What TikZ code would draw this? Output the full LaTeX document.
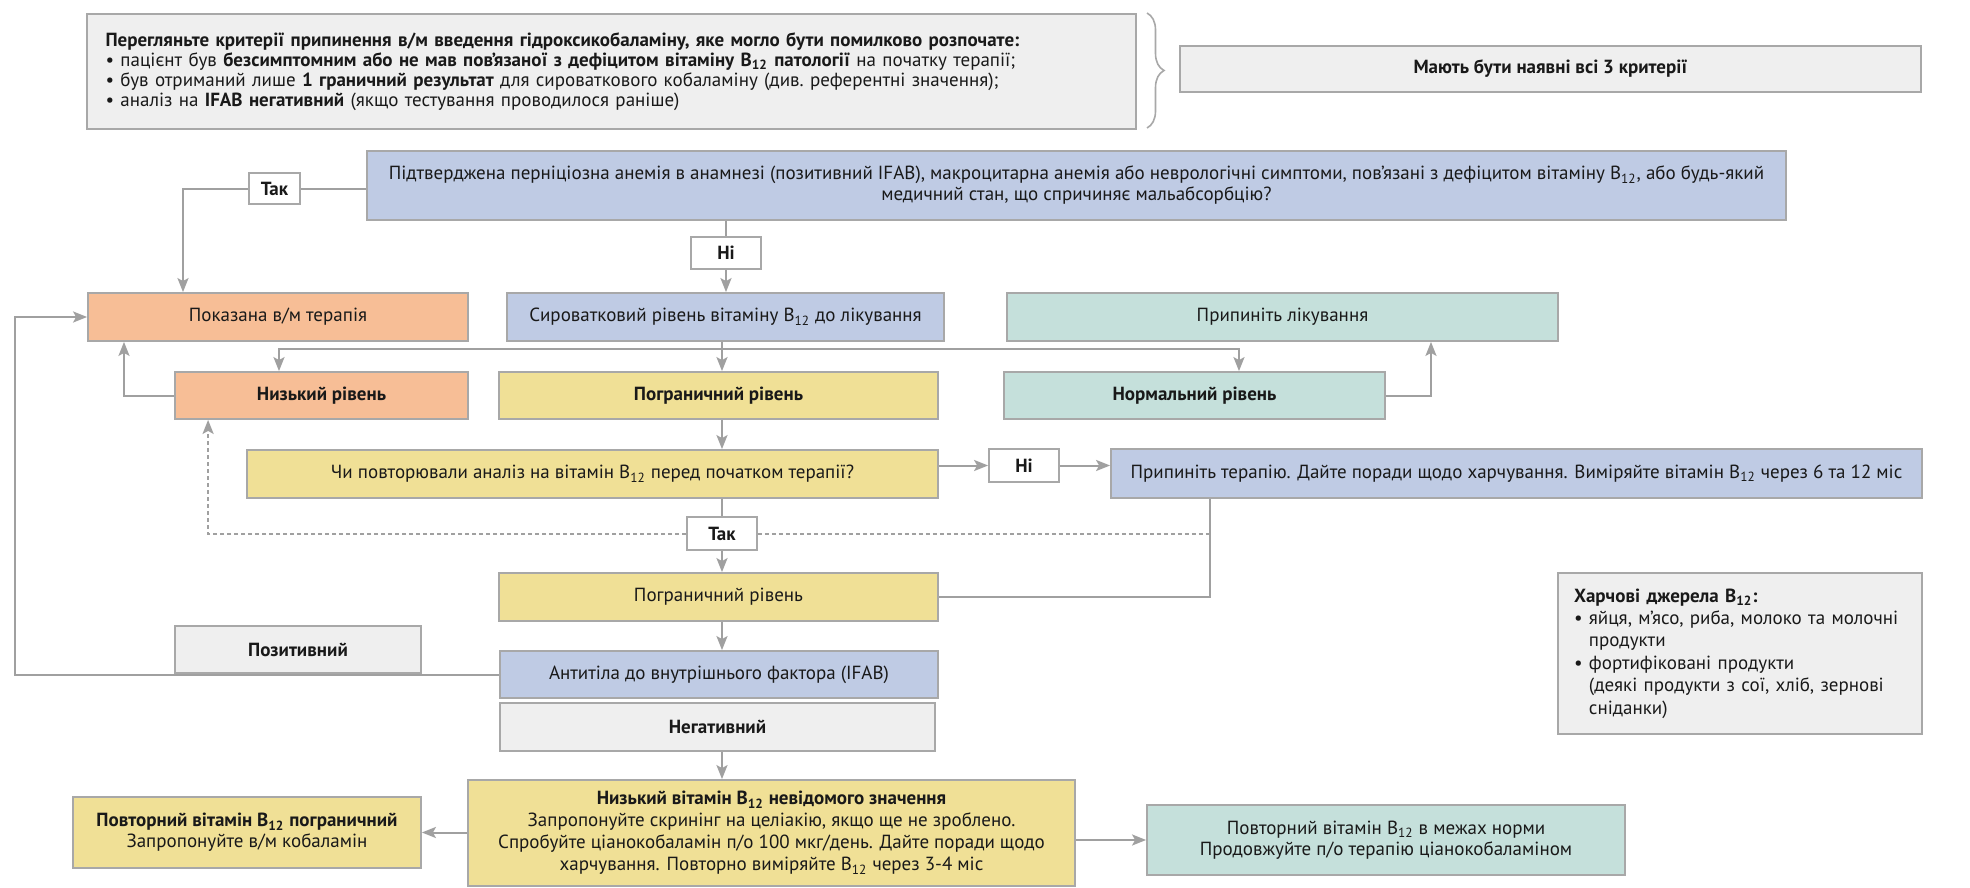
\documentclass[tikz,border=0pt]{standalone}
\usepackage{fontspec}
\setmainfont{PT Sans}
\usepackage{tikz}
\usetikzlibrary{arrows.meta,decorations.pathreplacing}

\definecolor{boxgray}{HTML}{EFEFEF}
\definecolor{boxblue}{HTML}{BFCBE4}
\definecolor{boxorange}{HTML}{F7BE96}
\definecolor{boxyellow}{HTML}{F0E096}
\definecolor{boxteal}{HTML}{C5E0DB}
\definecolor{linegray}{HTML}{A0A0A0}
\definecolor{edgegray}{HTML}{A8A8A8}

\newcommand{\fs}{\fontsize{9.5}{10.5}\selectfont}
\newcommand{\vitB}{B\textsubscript{12}}

\begin{document}
\begin{tikzpicture}[x=0.5pt, y=-0.5pt,
    every node/.style={font=\fs, text=black!90},
    box/.style={rectangle, draw=edgegray, line width=0.9pt, align=center, inner sep=2pt},
    greybox/.style={box, fill=boxgray},
    bluebox/.style={box, fill=boxblue},
    orangebox/.style={box, fill=boxorange},
    yellowbox/.style={box, fill=boxyellow},
    tealbox/.style={box, fill=boxteal},
    tag/.style={box, fill=white, font=\fs\bfseries},
    link/.style={draw=linegray, line width=1pt},
    arr/.style={link, -{Stealth[length=7pt, width=5.5pt, inset=1.5pt]}},
    darr/.style={arr, dash pattern=on 2pt off 1.5pt},
    dlink/.style={link, dash pattern=on 2pt off 1.5pt},
    critbrace/.style={draw=edgegray, line width=0.8pt, decorate, decoration={brace, amplitude=8.5pt}}
  ]
                    \path[fill=white, use as bounding box] (0,0) rectangle (1970,888);
                    % Nodes
                    \node[greybox, minimum width=524.5pt, minimum height=57.5pt, text width=506pt, align=left, font=\fontsize{9.5}{10}\selectfont] (crit) at (611.5,71.5) {\textbf{Перегляньте критерії припинення в/м введення гідроксикобаламіну, яке могло бути помилково розпочате:}\\
                        • пацієнт був \textbf{безсимптомним або не мав пов’язаної з дефіцитом вітаміну \vitB\ патології} на початку терапії;\\
                        • був отриманий лише \textbf{1 граничний результат} для сироваткового кобаламіну (див.\ референтні значення);\\
                        • аналіз на \textbf{IFAB негативний} (якщо тестування проводилося раніше)};
                    \node[greybox, minimum width=370.5pt, minimum height=23pt, font=\fs\bfseries] (crit3) at (1550.5,69) {Мають бути наявні всі 3 критерії};
                    \node[bluebox, minimum width=709.5pt, minimum height=34.5pt] (quest) at (1076.5,185.5) {Підтверджена перніціозна анемія в анамнезі (позитивний IFAB), макроцитарна анемія або неврологічні симптоми, пов’язані з дефіцитом вітаміну \vitB, або будь-який\\ медичний стан, що спричиняє мальабсорбцію?};
                    \node[tag, minimum width=25.5pt, minimum height=15.5pt] (yes1) at (274.5,188.5) {Так};
                    \node[tag, minimum width=35pt, minimum height=16pt] (no1) at (726,253) {Ні};
                    \node[orangebox, minimum width=190pt, minimum height=24pt] (pokaz) at (278,317) {Показана в/м терапія};
                    \node[bluebox, minimum width=218.5pt, minimum height=24pt] (seru) at (725.5,317) {Сироватковий рівень вітаміну \vitB\ до лікування};
                    \node[tealbox, minimum width=275.5pt, minimum height=24pt] (stop1) at (1282.5,317) {Припиніть лікування};
                    \node[orangebox, minimum width=146.5pt, minimum height=23.5pt, font=\fs\bfseries] (low) at (321.5,395.5) {Низький рівень};
                    \node[yellowbox, minimum width=219.5pt, minimum height=23.5pt, font=\fs\bfseries] (border1) at (718.5,395.5) {Пограничний рівень};
                    \node[tealbox, minimum width=190.5pt, minimum height=23.5pt, font=\fs\bfseries] (normal) at (1194.5,395.5) {Нормальний рівень};
                    \node[yellowbox, minimum width=345.5pt, minimum height=24pt] (ask) at (592.5,474) {Чи повторювали аналіз на вітамін \vitB\ перед початком терапії?};
                    \node[tag, minimum width=35pt, minimum height=16.5pt] (no2) at (1024,465.5) {Ні};
                    \node[bluebox, minimum width=405.5pt, minimum height=24.5pt] (stop2) at (1516.5,473.5) {Припиніть терапію. Дайте поради щодо харчування. Виміряйте вітамін \vitB\ через 6 та 12 міс};
                    \node[tag, minimum width=35pt, minimum height=16.5pt] (yes2) at (722,533.5) {Так};
                    \node[yellowbox, minimum width=219.5pt, minimum height=24pt] (border2) at (718.5,597) {Пограничний рівень};
                    \node[greybox, minimum width=123pt, minimum height=23.5pt, font=\fs\bfseries] (pos) at (298,649.5) {Позитивний};
                    \node[bluebox, minimum width=219pt, minimum height=23.5pt] (antib) at (719,674.5) {Антитіла до внутрішнього фактора (IFAB)};
                    \node[greybox, minimum width=217.5pt, minimum height=24pt, font=\fs\bfseries] (neg) at (717.5,727) {Негативний};
                    \node[yellowbox, minimum width=303.5pt, minimum height=53pt, font=\fontsize{9.5}{11}\selectfont] (lowvit) at (771.5,833) {\textbf{Низький вітамін \vitB\ невідомого значення}\\
                        Запропонуйте скринінг на целіакію, якщо ще не зроблено.\\
                        Спробуйте ціанокобаламін п/о 100 мкг/день. Дайте поради щодо\\
                        харчування. Повторно виміряйте \vitB\ через 3-4 міс};
                    \node[yellowbox, minimum width=174pt, minimum height=35.5pt] (rep1) at (247,832.5) {\textbf{Повторний вітамін \vitB\ пограничний}\\ Запропонуйте в/м кобаламін};
                    \node[tealbox, minimum width=239pt, minimum height=35pt] (rep2) at (1386,840) {Повторний вітамін \vitB\ в межах норми\\ Продовжуйте п/о терапію ціанокобаламіном};
                    \node[greybox, minimum width=182pt, minimum height=80.5pt, text width=166pt, align=left, font=\fontsize{9.5}{11.2}\selectfont] (food) at (1740,653.5) {\textbf{Харчові джерела \vitB:}\\
                        • яйця, м’ясо, риба, молоко та молочні\\
                        \phantom{• }продукти\\
                        • фортифіковані продукти\\
                        \phantom{• }(деякі продукти з сої, хліб, зернові\\
                        \phantom{• }сніданки)};
                    \coordinate (spine) at (722,0);
                    \coordinate (split) at (722,349);
                    \coordinate (drop) at ([xshift=50pt]stop2.south west);
                    % Edges
                    \draw[critbrace] (1147,13) -- (1147,128);
                    \draw[link] (yes1.east) -- (yes1 -| quest.west);
                    \draw[arr] (yes1.west) -| ([xshift=-47.5pt]pokaz.north);
                    \draw[link] (quest.south -| no1) -- (no1.north);
                    \draw[arr] (no1.south) -- (seru.north -| no1);
                    \draw[arr] (seru.south -| spine) -- (border1.north -| spine);
                    \draw[arr] (split) -| ([xshift=-21.25pt]low.north);
                    \draw[arr] (split) -| ([xshift=22.25pt]normal.north);
                    \draw[arr] (low.west) -| ([xshift=-77pt]pokaz.south);
                    \draw[arr] (normal.east) -| ([xshift=74.25pt]stop1.south);
                    \draw[arr] (border1.south -| spine) -- (ask.north -| spine);
                    \draw[arr] (ask.east |- no2) -- (no2.west);
                    \draw[arr] (no2.east) -- (stop2.west |- no2);
                    \draw[link] (ask.south -| spine) -- (yes2.north);
                    \draw[arr] (yes2.south) -- (border2.north -| spine);
                    \draw[darr] (yes2.west) -| ([xshift=17pt]low.south west);
                    \draw[dlink] (yes2.east) -- (yes2 -| drop);
                    \draw[link] (drop) |- (border2.east);
                    \draw[arr] (border2.south -| spine) -- (antib.north -| spine);
                    \draw[arr] (antib.west) -- ++(-484,0) |- (pokaz.west);
                    \draw[arr] (neg.south -| spine) -- (lowvit.north -| spine);
                    \draw[arr] (lowvit.west |- rep1) -- (rep1.east);
                    \draw[arr] (lowvit.east |- rep2) -- (rep2.west);
                \end{tikzpicture}
\end{document}
